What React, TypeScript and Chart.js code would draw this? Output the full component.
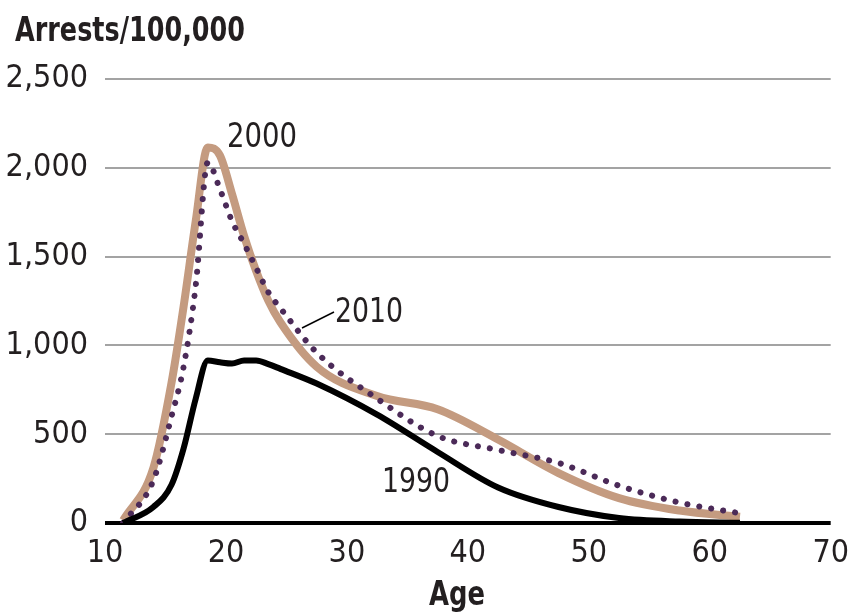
import React, { useEffect, useRef } from "react";
import { Chart, registerables } from "chart.js";

Chart.register(...registerables);

// Age group midpoints (years)
const ages = [11.5, 14, 15.5, 16.5, 17.5, 18.5, 19.5, 20.5, 21.5, 22.5, 23.5, 24.5, 27.5, 32.5, 37.5, 42.5, 47.5, 52.5, 57.5, 62.5];
// Arrests per 100,000 population
const arrests1990 = [0, 90, 215, 420, 700, 915, 905, 898, 915, 915, 895, 868, 785, 610, 400, 200, 90, 28, 8, 2];
const arrests2000 = [15, 310, 790, 1220, 1700, 2115, 2070, 1853, 1616, 1418, 1252, 1130, 880, 715, 640, 470, 281, 140, 70, 35];
const arrests2010 = [0, 240, 600, 880, 1335, 2030, 1880, 1700, 1572, 1436, 1300, 1210, 960, 700, 490, 411, 338, 210, 115, 55];

const xTicks = [10, 20, 30, 40, 50, 60, 70];
const yTicks = [0, 500, 1000, 1500, 2000, 2500];

const FONT = "'DejaVu Sans Condensed', 'DejaVu Sans', sans-serif";
const TEXT = "#231f20";

function drawFitted(ctx: any, text: string, x: number, y: number, font: string, width: number, align: "left" | "center") {
  ctx.save();
  ctx.font = font;
  ctx.textAlign = "left";
  ctx.textBaseline = "alphabetic";
  const w = ctx.measureText(text).width;
  const s = Math.min(1, width / w);
  const drawn = w * s;
  const left = align === "center" ? x - drawn / 2 : x;
  ctx.translate(left, y);
  ctx.scale(s, 1);
  ctx.fillText(text, 0, 0);
  ctx.restore();
}

const labelsPlugin = {
  id: "labelsPlugin",
  afterDraw(chart: any) {
    const ctx = chart.ctx;
    ctx.save();
    ctx.fillStyle = TEXT;
    drawFitted(ctx, "Arrests/100,000", 15, 41, `bold 33px ${FONT}`, 230, "left");
    drawFitted(ctx, "Age", 457, 605, `bold 33px ${FONT}`, 56, "center");
    drawFitted(ctx, "2000", 262, 147, `33px ${FONT}`, 70, "center");
    drawFitted(ctx, "2010", 369, 322, `33px ${FONT}`, 68, "center");
    drawFitted(ctx, "1990", 416, 492, `33px ${FONT}`, 68, "center");
    ctx.strokeStyle = "#000";
    ctx.lineWidth = 1.5;
    ctx.beginPath();
    ctx.moveTo(334, 312);
    ctx.lineTo(302, 328);
    ctx.stroke();
    ctx.restore();
  },
};

export default function App() {
  const ref = useRef<HTMLCanvasElement | null>(null);

  useEffect(() => {
    if (!ref.current) return;
    const pts = (vals: number[]) => ages.map((a, i) => ({ x: a, y: vals[i] }));
    const chart = new Chart(ref.current, {
      type: "line",
      data: {
        datasets: [
          {
            label: "1990",
            data: pts(arrests1990),
            borderColor: "#000000",
            borderWidth: 6,
            pointRadius: 0,
            cubicInterpolationMode: "monotone",
            borderJoinStyle: "round",
          },
          {
            label: "2010",
            data: pts(arrests2010),
            borderColor: "#4b2a58",
            borderWidth: 6,
            borderDash: [0.1, 12],
            borderCapStyle: "round",
            pointRadius: 0,
            cubicInterpolationMode: "monotone",
          },
          {
            label: "2000",
            data: pts(arrests2000),
            borderColor: "#c49b80",
            borderWidth: 8,
            pointRadius: 0,
            cubicInterpolationMode: "monotone",
            borderJoinStyle: "round",
          },
        ],
      },
      options: {
        responsive: false,
        animation: false,
        layout: { padding: { top: 79, right: 22, left: 0, bottom: 0 } },
        plugins: {
          legend: { display: false },
          tooltip: { enabled: false },
          title: { display: false },
        },
        scales: {
          x: {
            type: "linear",
            min: 10,
            max: 70,
            afterBuildTicks: (axis: any) => {
              axis.ticks = xTicks.map((v) => ({ value: v }));
            },
            afterFit: (axis: any) => {
              axis.height = 93;
            },
            grid: { display: false, drawTicks: false },
            border: { display: false },
            ticks: {
              color: TEXT,
              font: { family: FONT, size: 32 },
              padding: 11,
              maxRotation: 0,
              autoSkip: false,
            },
          },
          y: {
            min: 0,
            max: 2500,
            afterBuildTicks: (axis: any) => {
              axis.ticks = yTicks.map((v) => ({ value: v }));
            },
            afterFit: (axis: any) => {
              axis.width = 105;
            },
            grid: {
              drawTicks: false,
              color: (c: any) => (c.tick && c.tick.value === 0 ? "#000000" : "#a3a3a3"),
              lineWidth: (c: any) => (c.tick && c.tick.value === 0 ? 4 : 2),
            },
            border: { display: false },
            ticks: {
              color: TEXT,
              font: { family: FONT, size: 32 },
              padding: 17,
              callback: (v: any) => Number(v).toLocaleString("en-US"),
            },
          },
        },
      },
      plugins: [labelsPlugin],
    });
    return () => chart.destroy();
  }, []);

  return (
    <div style={{ position: "absolute", left: 0, top: 0, width: 860, height: 616, background: "#fff" }}>
      <canvas ref={ref} width={860} height={616} style={{ display: "block" }} />
    </div>
  );
}
